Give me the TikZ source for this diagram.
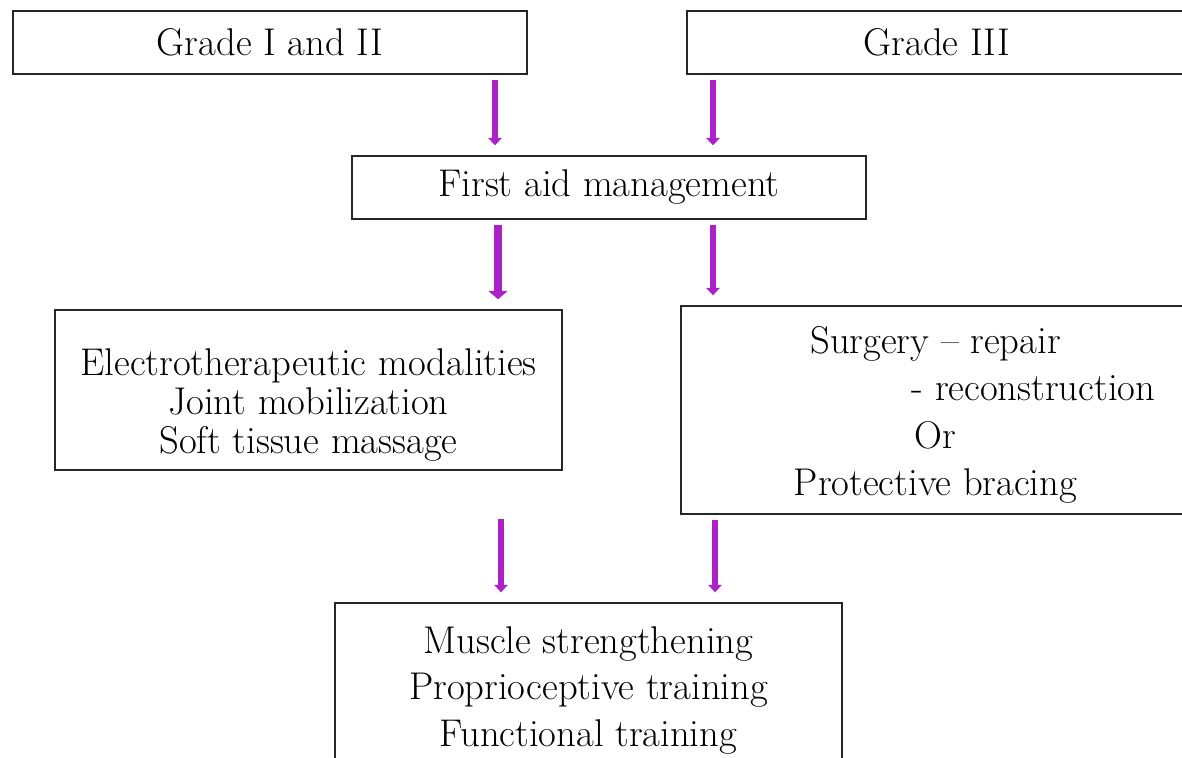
\documentclass[tikz,border=0pt]{standalone}
\usepackage{tikz}
\usetikzlibrary{arrows.meta}

\definecolor{arrowpurple}{RGB}{172,34,200}

\begin{document}
\begin{tikzpicture}[x=0.02cm, y=-0.02cm,
    box/.style={draw=black!85, line width=0.8pt, align=center, inner sep=0pt,
        font=\fontsize{22}{23.2}\selectfont},
    boxtext/.style={align=center, inner sep=0pt, font=\fontsize{22}{26.4}\selectfont},
    flow/.style={draw=arrowpurple, line width=3.2pt,
        -{Triangle[width=0.27cm, length=0.15cm]},
        shorten <=0.1cm, shorten >=0.2cm},
    bigflow/.style={flow, line width=5pt,
        -{Triangle[width=0.38cm, length=0.17cm]}}]
    \useasboundingbox (0,0) rectangle (1182,757);

    % Draw the grade boxes
    \node[box, minimum width=10.28cm, minimum height=1.26cm] (grade12) at (270,42.5) {Grade I and II};
    \node[box, minimum width=10cm, minimum height=1.26cm] (grade3) at (937,42.5) {Grade III};

    % Draw the first aid box
    \node[box, minimum width=10.28cm, minimum height=1.26cm] (firstaid) at (609,187.5) {First aid management};

    % Draw the treatment boxes
    \node[box, minimum width=10.14cm, minimum height=3.2cm] (electro) at (308.5,390) {};
    \node[boxtext, font=\fontsize{22}{22.4}\selectfont] (electrotext) at ([yshift=-0.3cm]electro.center)
        {Electrotherapeutic modalities\\Joint mobilization\\Soft tissue massage};
    \node[box, minimum width=10.18cm, minimum height=4.16cm] (surgery) at (935.5,410) {};
    \node[boxtext, font=\fontsize{22}{27}\selectfont] (surgerytext) at ([yshift=-0.1cm]surgery.center)
        {Surgery -- repair\\\hspace*{3.92cm}- reconstruction\\Or\\Protective bracing};

    % Draw the rehabilitation box
    \node[box, minimum width=10.14cm, minimum height=3.34cm] (rehab) at (588.5,686.5) {};
    \node[boxtext] (rehabtext) at ([yshift=-0.08cm]rehab.center)
        {Muscle strengthening\\Proprioceptive training\\Functional training};

    % Draw the arrows
    \draw[flow] (grade12.south -| 495,0) -- (firstaid.north -| 495,0);
    \draw[flow] (grade3.south -| 713,0) -- (firstaid.north -| 713,0);
    \draw[bigflow] (firstaid.south -| 498,0) -- (electro.north -| 498,0);
    \draw[flow] (firstaid.south -| 713,0) -- (surgery.north -| 713,0);
    \draw[flow] (electro.south -| 501,0) ++(0,43) -- (rehab.north -| 501,0);
    \draw[flow] (surgery.south -| 715,0) -- (rehab.north -| 715,0);
\end{tikzpicture}
\end{document}
